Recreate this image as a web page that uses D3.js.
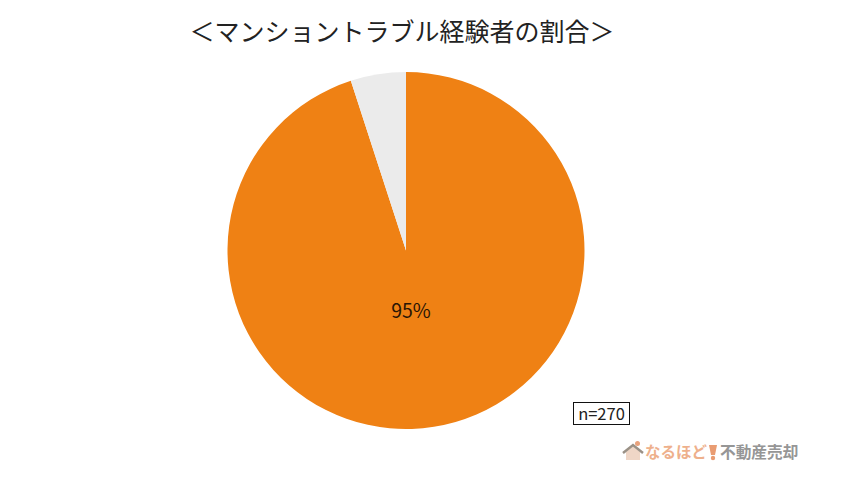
<!DOCTYPE html>
<html lang="ja">
<head>
<meta charset="utf-8">
<script src="https://cdn.jsdelivr.net/npm/d3@7"></script>
<style>
  html, body { margin: 0; padding: 0; background: #fff; }
  text { font-family: "Noto Sans CJK JP", sans-serif; }
</style>
</head>
<body>
<div id="chart"></div>
<script>
// Datos
const categories = ["経験あり", "経験なし"];
const shares = [95, 5];
const colors = ["#ef8114", "#ebebeb"];
const valueLabels = ["95%", ""];

const chartTitle = "＜マンショントラブル経験者の割合＞";
const sampleNote = "n=270";
const logoKana = "なるほど";
const logoText = "不動産売却";

// Constantes
const width = 849;
const height = 485;
const center = { x: 406, y: 250.5 };
const radius = 178.5;

const svg = d3
  .select("div#chart")
  .append("svg")
  .attr("width", width)
  .attr("height", height)
  .style("display", "block");

// Titulo
svg
  .append("text")
  .attr("x", 402)
  .attr("y", 41)
  .attr("text-anchor", "middle")
  .attr("font-size", 25)
  .attr("font-weight", 400)
  .attr("fill", "#222")
  .text(chartTitle);

// Tarta
const pie = d3.pie().sort(null).value((d) => d.value);
const arc = d3.arc().innerRadius(0).outerRadius(radius);
const slices = pie(categories.map((c, i) => ({ name: c, value: shares[i] })));

const pieGroup = svg
  .append("g")
  .attr("transform", `translate(${center.x}, ${center.y})`);

pieGroup
  .selectAll("path")
  .data(slices)
  .join("path")
  .attr("d", arc)
  .attr("fill", (d, i) => colors[i]);

// Etiqueta del valor
pieGroup
  .selectAll("text")
  .data(slices.filter((d, i) => valueLabels[i]))
  .join("text")
  .attr("x", 5)
  .attr("y", 67)
  .attr("text-anchor", "middle")
  .attr("font-size", 19.5)
  .attr("font-weight", 400)
  .attr("fill", "#2a1505")
  .text((d, i) => valueLabels[i]);

// Caja n=
svg
  .append("rect")
  .attr("x", 573.5)
  .attr("y", 402.5)
  .attr("width", 56)
  .attr("height", 22)
  .attr("fill", "#fff")
  .attr("stroke", "#111")
  .attr("stroke-width", 1);

svg
  .append("text")
  .attr("x", 601.5)
  .attr("y", 419.5)
  .attr("text-anchor", "middle")
  .attr("font-size", 16.5)
  .attr("font-weight", 400)
  .attr("fill", "#222")
  .text(sampleNote);

// Logo
const logo = svg.append("g").attr("transform", "translate(622, 441)");

logo
  .append("path")
  .attr("d", "M4,11 L11,5 L18,11 L18,19 L4,19 Z")
  .attr("fill", "#efd6c6");

logo
  .append("path")
  .attr("d", "M1,12 L11,4 L21,12")
  .attr("fill", "none")
  .attr("stroke", "#9a9186")
  .attr("stroke-width", 2.5);

logo
  .append("circle")
  .attr("cx", 15.5)
  .attr("cy", 2.5)
  .attr("r", 2.5)
  .attr("fill", "#e9a27c");

logo
  .append("text")
  .attr("x", 23)
  .attr("y", 16.5)
  .attr("font-size", 15.5)
  .attr("font-weight", 700)
  .attr("fill", "#eeb08c")
  .text(logoKana);

logo
  .append("path")
  .attr("d", "M87,4 L95,4 L93,14 L89,14 Z")
  .attr("fill", "#e99c72");

logo
  .append("circle")
  .attr("cx", 91)
  .attr("cy", 17)
  .attr("r", 2.2)
  .attr("fill", "#e99c72");

logo
  .append("text")
  .attr("x", 98)
  .attr("y", 16.5)
  .attr("font-size", 15.7)
  .attr("font-weight", 700)
  .attr("fill", "#969696")
  .text(logoText);
</script>
</body>
</html>
